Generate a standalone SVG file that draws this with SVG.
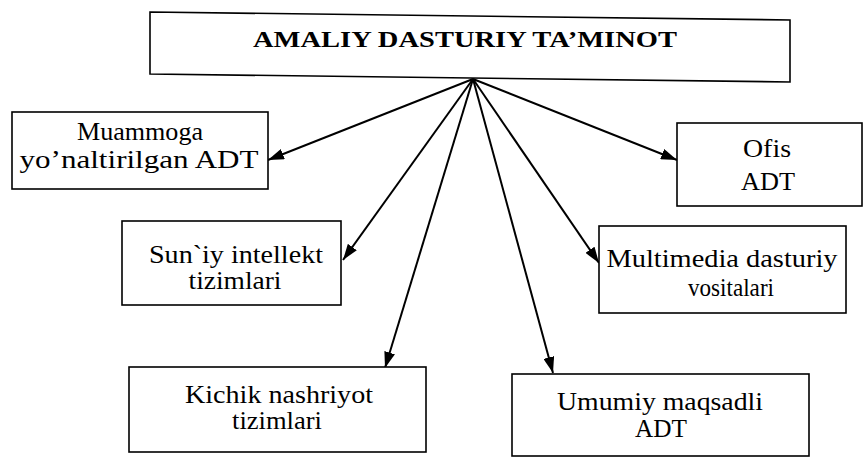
<svg xmlns="http://www.w3.org/2000/svg" width="865" height="458" viewBox="0 0 865 458">
<style>
.box{fill:#fff;stroke:#000;stroke-width:1.6}
text{font-family:'Liberation Serif','DejaVu Serif',serif;fill:#000;text-anchor:middle}
.t{font-size:25px}
.title{font-size:23px;font-weight:bold}
.c{stroke:#000;stroke-width:2;fill:none;marker-end:url(#ah)}
</style>
<defs>
<marker id="ah" viewBox="0 0 10 10" refX="10" refY="5" markerWidth="16" markerHeight="11" markerUnits="userSpaceOnUse" orient="auto" preserveAspectRatio="none">
<path d="M0,0 L10,5 L0,10 z" fill="#000"/>
</marker>
</defs>
<rect width="865" height="458" fill="#fff"/>
<g id="root">
<polygon class="box" points="150,12 790,20 790,82 150,74"/>
<text class="title" x="465" y="47" textLength="424" lengthAdjust="spacingAndGlyphs">AMALIY DASTURIY TA’MINOT</text>
</g>
<g id="connectors">
<line class="c" x1="473" y1="79" x2="268" y2="160"/>
<line class="c" x1="473" y1="79" x2="677" y2="160"/>
<line class="c" x1="473" y1="79" x2="343" y2="260"/>
<line class="c" x1="473" y1="79" x2="599" y2="263"/>
<line class="c" x1="473" y1="79" x2="385" y2="368"/>
<line class="c" x1="473" y1="79" x2="553" y2="373"/>
</g>
<g id="muammoga">
<rect class="box" x="12" y="112" width="256" height="77"/>
<text class="t" x="140" y="140" textLength="126" lengthAdjust="spacingAndGlyphs">Muammoga</text>
<text class="t" x="139" y="168" textLength="239" lengthAdjust="spacingAndGlyphs">yo’naltirilgan ADT</text>
</g>
<g id="ofis">
<rect class="box" x="677" y="123" width="185" height="83"/>
<text class="t" x="767" y="157" textLength="48" lengthAdjust="spacingAndGlyphs">Ofis</text>
<text class="t" x="768" y="190" textLength="54" lengthAdjust="spacingAndGlyphs">ADT</text>
</g>
<g id="suniy">
<rect class="box" x="122" y="221" width="219" height="84"/>
<text class="t" x="236" y="263" textLength="174" lengthAdjust="spacingAndGlyphs">Sun`iy intellekt</text>
<text class="t" x="235" y="289" textLength="93" lengthAdjust="spacingAndGlyphs">tizimlari</text>
</g>
<g id="multimedia">
<rect class="box" x="599" y="226" width="247" height="87"/>
<text class="t" x="722" y="267" textLength="231" lengthAdjust="spacingAndGlyphs">Multimedia dasturiy</text>
<text class="t" x="731" y="296" textLength="86" lengthAdjust="spacingAndGlyphs">vositalari</text>
</g>
<g id="kichik">
<rect class="box" x="129" y="367" width="297" height="85"/>
<text class="t" x="279" y="403" textLength="188" lengthAdjust="spacingAndGlyphs">Kichik nashriyot</text>
<text class="t" x="277" y="429" textLength="90" lengthAdjust="spacingAndGlyphs">tizimlari</text>
</g>
<g id="umumiy">
<rect class="box" x="512" y="374" width="297" height="82"/>
<text class="t" x="660" y="410" textLength="206" lengthAdjust="spacingAndGlyphs">Umumiy maqsadli</text>
<text class="t" x="661" y="437" textLength="52" lengthAdjust="spacingAndGlyphs">ADT</text>
</g>
</svg>
